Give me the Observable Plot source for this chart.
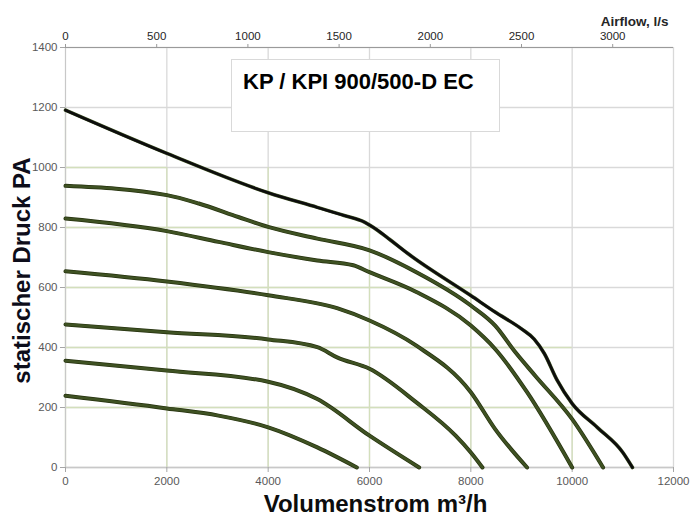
<!DOCTYPE html>
<html>
<head>
<meta charset="utf-8">
<script src="https://cdn.jsdelivr.net/npm/d3@7"></script>
<script src="https://cdn.jsdelivr.net/npm/@observablehq/plot@0.6"></script>
<style>
  html, body { margin: 0; padding: 0; background: #fff; }
  #wrap { position: relative; width: 690px; height: 519px; }
  #titlebox {
    position: absolute; left: 231px; top: 59px; width: 269px; height: 73px;
    border: 1px solid #d9d9d9; background: #fff; box-sizing: border-box;
    font-family: "Liberation Sans", Arial, sans-serif; font-weight: bold; font-size: 22px;
    line-height: 25px; color: #000; padding: 9px 0 0 11px; white-space: nowrap;
  }
</style>
</head>
<body>
<div id="wrap"></div>
<script>
// ---- data ----
const xTicks = [0, 2000, 4000, 6000, 8000, 10000, 12000];
const yTicks = [0, 200, 400, 600, 800, 1000, 1200, 1400];
const lpsTicks = [0, 500, 1000, 1500, 2000, 2500, 3000];

const c1x = [0, 2000, 4000, 4970, 5500, 5900, 6150, 6400, 6750, 8000, 8480, 9000, 9250, 9450, 9700, 10000, 10500, 11000, 11190];
const c1y = [1191, 1047, 916, 867, 840, 818, 792, 760, 714, 573, 518, 462, 428, 380, 292, 213, 133, 50, 0];
const c2x = [0, 2000, 2630, 3410, 4000, 4970, 6000, 6925, 8000, 8480, 8880, 9270, 10000, 10610];
const c2y = [939, 908, 880, 835, 802, 763, 724, 651, 540, 473, 384, 306, 161, 0];
const c3x = [0, 2000, 3020, 4000, 4970, 5680, 6000, 6925, 8000, 8480, 9110, 10000];
const c3y = [830, 788, 752, 718, 690, 674, 651, 585, 473, 395, 251, 0];
const c4x = [0, 2000, 4000, 5360, 6000, 6925, 8000, 8480, 9110];
const c4y = [654, 620, 574, 531, 490, 406, 251, 128, 0];
const c5x = [0, 2000, 4000, 4970, 5360, 6000, 6925, 7700, 8000, 8230];
const c5y = [477, 451, 427, 401, 367, 329, 217, 106, 50, 0];
const c6x = [0, 2000, 4000, 4970, 6000, 6980];
const c6y = [356, 323, 286, 228, 106, 0];
const c7x = [0, 2000, 3020, 4000, 4970, 5750];
const c7y = [239, 197, 173, 134, 67, 0];

const curves = [
  {name: "c1", xs: c1x, ys: c1y},
  {name: "c2", xs: c2x, ys: c2y},
  {name: "c3", xs: c3x, ys: c3y},
  {name: "c4", xs: c4x, ys: c4y},
  {name: "c5", xs: c5x, ys: c5y},
  {name: "c6", xs: c6x, ys: c6y},
  {name: "c7", xs: c7x, ys: c7y}
];
const rows = curves.flatMap(c => c.xs.map((x, i) => ({series: c.name, x, y: c.ys[i]})));
const topRows = rows.filter(r => r.series === "c1");
const otherRows = rows.filter(r => r.series !== "c1");

// green (secondary) grid, bounded by the top curve
const topAt = x => {
  for (let i = 1; i < c1x.length; i++) {
    if (x <= c1x[i]) { const t = (x - c1x[i-1]) / (c1x[i] - c1x[i-1]); return c1y[i-1] + t * (c1y[i] - c1y[i-1]); }
  }
  return 0;
};
const crossAt = y => {
  for (let i = 1; i < c1y.length; i++) {
    if (y >= c1y[i]) { const t = (c1y[i-1] - y) / (c1y[i-1] - c1y[i]); return c1x[i-1] + t * (c1x[i] - c1x[i-1]); }
  }
  return 0;
};
const greenV = xTicks.filter(x => x < 12000).map(x => ({x, top: Math.round(topAt(x) / 200) * 200})).filter(d => d.top > 0);
const greenH = yTicks.filter(y => y > 0 && y < 1200).map(y => ({y, right: Math.round(crossAt(y) / 2000) * 2000}));

const gray = "#d9d9d9";
const green = "#d3dfbc";
const tickFont = "Liberation Sans, Arial, sans-serif";
const fmt = d => String(Math.round(d));

const chart = Plot.plot({
  width: 690,
  height: 519,
  marginLeft: 65,
  marginRight: 17,
  marginTop: 47,
  marginBottom: 52,
  style: {fontFamily: tickFont, fontSize: "11.5px", background: "#fff"},
  x: {domain: [0, 12000], axis: null},
  y: {domain: [0, 1400], axis: null},
  marks: [
    Plot.gridX(xTicks, {stroke: gray, strokeOpacity: 1, strokeWidth: 1.3}),
    Plot.gridY(yTicks, {stroke: gray, strokeOpacity: 1, strokeWidth: 1.3}),
    Plot.ruleX(greenV, {x: "x", y1: 0, y2: "top", stroke: green, strokeWidth: 1.3}),
    Plot.ruleY(greenH, {y: "y", x1: 0, x2: "right", stroke: green, strokeWidth: 1.3}),
    Plot.ruleY([1400], {stroke: "#9a9a9a", strokeWidth: 1}),
    Plot.ruleY([0], {stroke: "#c8c8c8", strokeWidth: 1.5}),
    Plot.ruleX([0], {stroke: "#c8c8c8", strokeWidth: 1}),
    Plot.axisY({ticks: yTicks, tickFormat: fmt, tickSize: 5, tickPadding: 3, stroke: "#a6a6a6", color: "#595959", label: null, fontSize: 11.5}),
    Plot.axisX({anchor: "bottom", ticks: xTicks, tickFormat: fmt, tickSize: 5, tickPadding: 4, stroke: "#a6a6a6", color: "#595959", label: null, fontSize: 11.5}),
    Plot.axisX({anchor: "top", ticks: lpsTicks.map(v => v * 3.6), tickFormat: d => fmt(d / 3.6), tickSize: 4, tickPadding: 4, stroke: "#9a9a9a", color: "#262626", label: null, fontSize: 11.5}),
    // curves
    Plot.line(otherRows, {x: "x", y: "y", z: "series", curve: "monotone-x", stroke: "#26320f", strokeWidth: 4}),
    Plot.line(otherRows, {x: "x", y: "y", z: "series", curve: "monotone-x", stroke: "#3f5223", strokeWidth: 2.6}),
    Plot.line(topRows, {x: "x", y: "y", curve: "monotone-x", stroke: "#3f5223", strokeWidth: 3.6}),
    Plot.line(topRows, {x: "x", y: "y", curve: "monotone-x", stroke: "#0d0d0d", strokeWidth: 2.6}),
    // titles
    Plot.text(["Volumenstrom m³/h"], {frameAnchor: "bottom", textAnchor: "middle", dx: 6, dy: 44, fontSize: 24, fontWeight: "bold", fill: "#0d0d0d", fontFamily: "Liberation Sans, Arial, sans-serif"}),
    Plot.text(["statischer Druck PA"], {frameAnchor: "left", textAnchor: "middle", rotate: -90, dx: -43, dy: 13, fontSize: 24, fontWeight: "bold", fill: "#0d0d1a", fontFamily: "Liberation Sans, Arial, sans-serif"}),
    Plot.text(["Airflow, l/s"], {frameAnchor: "top-right", textAnchor: "end", dx: -5, dy: -31, fontSize: 13.5, fontWeight: "bold", fill: "#262626"})
  ]
});

const wrap = document.getElementById("wrap");
wrap.appendChild(chart);
const box = document.createElement("div");
box.id = "titlebox";
box.textContent = "KP / KPI 900/500-D EC";
wrap.appendChild(box);
</script>
</body>
</html>
